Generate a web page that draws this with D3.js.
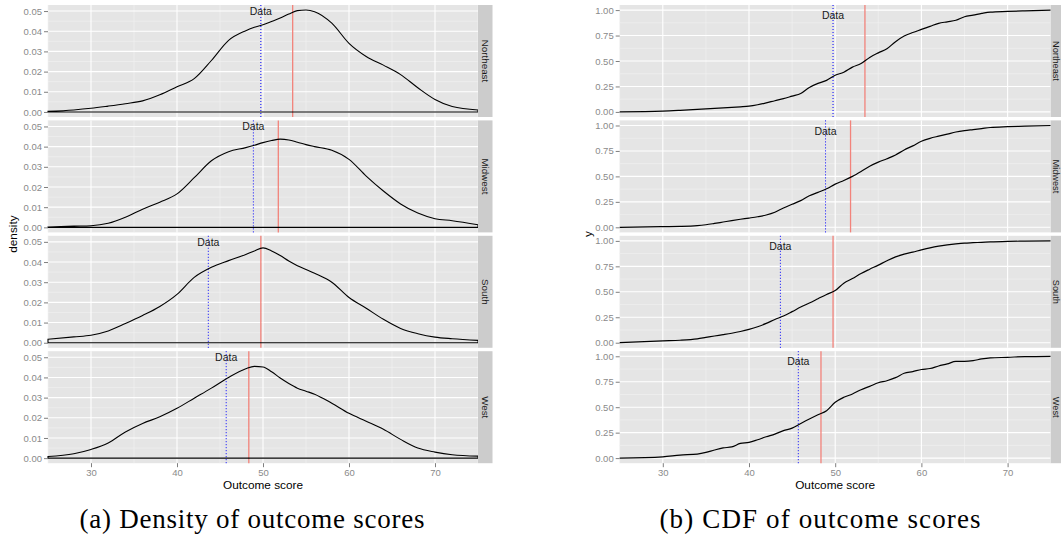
<!DOCTYPE html>
<html>
<head>
<meta charset="utf-8">
<script src="https://cdn.jsdelivr.net/npm/d3@7"></script>
<style>
  html, body { margin: 0; padding: 0; background: #ffffff; }
  svg { display: block; }
</style>
</head>
<body>
<script>
// ---------------- data ----------------
const regions = ["Northeast", "Midwest", "South", "West"];
const xTicks = [30, 40, 50, 60, 70];

// observed ("Data", blue dotted) and model (red) reference values per region
const dataMarks = [49.75, 48.88, 43.64, 45.72];
const modelMarks = [53.45, 51.78, 49.75, 48.35];

// density curves
const densityX = [25, 28, 30, 32, 34, 36, 38, 40, 42, 44, 46, 48, 49, 50, 51, 52, 53, 54, 55, 56, 58, 60, 62, 64, 66, 68, 70, 72, 75];
const densityNortheast = [0.0003, 0.0010, 0.0018, 0.0029, 0.0041, 0.0055, 0.0085, 0.0125, 0.0165, 0.0255, 0.0355, 0.0403, 0.0420, 0.0432, 0.0448, 0.0465, 0.0485, 0.0502, 0.0505, 0.0497, 0.0440, 0.0340, 0.0275, 0.0232, 0.0185, 0.0120, 0.0062, 0.0027, 0.0010];
const densityMidwest = [0.0002, 0.0006, 0.0008, 0.0020, 0.0050, 0.0090, 0.0125, 0.0166, 0.0246, 0.0330, 0.0375, 0.0395, 0.0407, 0.0420, 0.0430, 0.0437, 0.0433, 0.0422, 0.0410, 0.0400, 0.0382, 0.0337, 0.0254, 0.0180, 0.0116, 0.0071, 0.0043, 0.0033, 0.0013];
const densitySouth = [0.0017, 0.0029, 0.0037, 0.0058, 0.0095, 0.0135, 0.0180, 0.0240, 0.0324, 0.0374, 0.0407, 0.0437, 0.0455, 0.0470, 0.0455, 0.0432, 0.0405, 0.0382, 0.0363, 0.0344, 0.0300, 0.0224, 0.0171, 0.0116, 0.0071, 0.0045, 0.0028, 0.0020, 0.0012];
const densityWest = [0.0008, 0.0022, 0.0043, 0.0075, 0.0130, 0.0172, 0.0205, 0.0247, 0.0297, 0.0347, 0.0400, 0.0443, 0.0455, 0.0452, 0.0428, 0.0397, 0.0370, 0.0347, 0.0332, 0.0317, 0.0272, 0.0222, 0.0183, 0.0143, 0.0093, 0.0050, 0.0030, 0.0017, 0.0010];
const densityTicks = [0, 0.01, 0.02, 0.03, 0.04, 0.05];

// cumulative distribution curves
const cdfX = [25, 30, 32, 34, 35, 36, 37, 38, 39, 40, 41, 42, 43, 44, 45, 46, 47, 48, 49, 50, 51, 52, 53, 54, 55, 56, 57, 58, 59, 60, 61, 62, 63, 64, 65, 66, 67, 68, 70, 72, 75];
const cdfNortheast = [0, 0.007, 0.015, 0.025, 0.03, 0.035, 0.04, 0.045, 0.05, 0.056, 0.07, 0.089, 0.11, 0.13, 0.155, 0.18, 0.24, 0.28, 0.31, 0.36, 0.39, 0.44, 0.475, 0.535, 0.58, 0.62, 0.69, 0.745, 0.78, 0.81, 0.84, 0.87, 0.885, 0.9, 0.935, 0.95, 0.967, 0.98, 0.987, 0.993, 1.0];
const cdfMidwest = [0, 0.007, 0.009, 0.016, 0.025, 0.038, 0.052, 0.066, 0.079, 0.091, 0.104, 0.121, 0.148, 0.19, 0.226, 0.262, 0.31, 0.343, 0.378, 0.424, 0.46, 0.5, 0.548, 0.6, 0.64, 0.673, 0.71, 0.76, 0.8, 0.845, 0.874, 0.895, 0.915, 0.936, 0.95, 0.96, 0.97, 0.98, 0.988, 0.993, 1.0];
const cdfSouth = [0, 0.018, 0.024, 0.038, 0.052, 0.066, 0.079, 0.093, 0.11, 0.131, 0.157, 0.19, 0.228, 0.262, 0.305, 0.35, 0.39, 0.432, 0.474, 0.512, 0.585, 0.63, 0.68, 0.722, 0.762, 0.805, 0.843, 0.87, 0.89, 0.912, 0.932, 0.948, 0.96, 0.97, 0.978, 0.982, 0.986, 0.99, 0.995, 0.998, 1.0];
const cdfWest = [0, 0.013, 0.03, 0.04, 0.056, 0.08, 0.1, 0.11, 0.144, 0.154, 0.18, 0.21, 0.236, 0.27, 0.295, 0.34, 0.384, 0.426, 0.466, 0.548, 0.597, 0.63, 0.672, 0.705, 0.74, 0.76, 0.79, 0.833, 0.85, 0.87, 0.88, 0.905, 0.925, 0.95, 0.95, 0.957, 0.974, 0.984, 0.99, 0.997, 1.0];
const cdfTicks = [0, 0.25, 0.5, 0.75, 1.0];

const captions = ["(a) Density of outcome scores", "(b) CDF of outcome scores"];
const xTitle = "Outcome score";
const yTitles = ["density", "y"];
const dataLabel = "Data";

// ---------------- drawing ----------------
const W = 1061, H = 548;
const svg = d3.select("body").append("svg").attr("width", W).attr("height", H)
  .style("font-family", "'Liberation Sans', Arial, sans-serif");

const panelTops = [5, 120.4, 235.8, 351.2];
const panelH = 112;
const stripW = 14.5;

function drawChart(cfg) {
  const g = svg.append("g");
  const x = d3.scaleLinear().domain([25, 75]).range([cfg.x0, cfg.x1]);
  const xMinor = [25, 35, 45, 55, 65, 75];
  const sw = Math.min(stripW, W - cfg.x1);

  regions.forEach((reg, i) => {
    const top = panelTops[i];
    const y = d3.scaleLinear().domain(cfg.yDomain).range([top + panelH, top]);
    const pg = g.append("g");

    // background
    pg.append("rect").attr("x", cfg.x0).attr("y", top)
      .attr("width", cfg.x1 - cfg.x0).attr("height", panelH).attr("fill", "#E5E5E5");

    // minor grid
    const yMinor = [];
    for (let k = 0; k < cfg.yTicks.length - 1; k++) yMinor.push((cfg.yTicks[k] + cfg.yTicks[k + 1]) / 2);
    pg.selectAll(".vminor").data(xMinor).enter().append("line")
      .attr("x1", d => x(d)).attr("x2", d => x(d)).attr("y1", top).attr("y2", top + panelH)
      .attr("stroke", "#F2F2F2").attr("stroke-width", 0.6);
    pg.selectAll(".hminor").data(yMinor).enter().append("line")
      .attr("x1", cfg.x0).attr("x2", cfg.x1).attr("y1", d => y(d)).attr("y2", d => y(d))
      .attr("stroke", "#F2F2F2").attr("stroke-width", 0.6);
    // major grid
    pg.selectAll(".vmajor").data(xTicks).enter().append("line")
      .attr("x1", d => x(d)).attr("x2", d => x(d)).attr("y1", top).attr("y2", top + panelH)
      .attr("stroke", "#FFFFFF").attr("stroke-width", 1.1);
    pg.selectAll(".hmajor").data(cfg.yTicks).enter().append("line")
      .attr("x1", cfg.x0).attr("x2", cfg.x1).attr("y1", d => y(d)).attr("y2", d => y(d))
      .attr("stroke", "#FFFFFF").attr("stroke-width", 1.1);

    // reference lines
    pg.append("line")
      .attr("x1", x(modelMarks[i])).attr("x2", x(modelMarks[i]))
      .attr("y1", top).attr("y2", top + panelH)
      .attr("stroke", "#F2837B").attr("stroke-width", 1.3);
    pg.append("line")
      .attr("x1", x(dataMarks[i])).attr("x2", x(dataMarks[i]))
      .attr("y1", top).attr("y2", top + panelH)
      .attr("stroke", "#0000FF").attr("stroke-width", 1).attr("stroke-dasharray", "1,2");

    // curve
    const vals = cfg.series[i];
    const pts = cfg.xs.map((xv, k) => [xv, vals[k]]);
    if (cfg.kind === "density") {
      const area = d3.area().x(d => x(d[0])).y0(y(0)).y1(d => y(d[1])).curve(d3.curveMonotoneX);
      pg.append("path").attr("d", area(pts)).attr("fill", "none")
        .attr("stroke", "#000000").attr("stroke-width", 1.1);
    } else {
      const line = d3.line().x(d => x(d[0])).y(d => y(d[1])).curve(d3.curveMonotoneX);
      pg.append("path").attr("d", line(pts)).attr("fill", "none")
        .attr("stroke", "#000000").attr("stroke-width", 1.2);
    }

    // "Data" label
    pg.append("text").attr("x", x(dataMarks[i])).attr("y", y(cfg.labelY))
      .attr("text-anchor", "middle").attr("dominant-baseline", "central")
      .attr("font-size", "10.5px").attr("fill", "#1a1a1a").text(dataLabel);

    // strip (clipped by the page edge on the right chart)
    pg.append("rect").attr("x", cfg.x1).attr("y", top).attr("width", stripW).attr("height", panelH)
      .attr("fill", "#CCCCCC");
    pg.append("text")
      .attr("transform", `translate(${cfg.x1 + sw / 2},${top + panelH / 2}) rotate(90)`)
      .attr("text-anchor", "middle").attr("dominant-baseline", "central")
      .attr("font-size", sw < stripW ? "9.2px" : "9.8px").attr("fill", "#1a1a1a").text(reg);

    // y axis
    const ya = pg.append("g").attr("transform", `translate(${cfg.x0},0)`)
      .call(d3.axisLeft(y).tickValues(cfg.yTicks).tickFormat(d3.format(".2f")).tickSize(4).tickPadding(2));
    ya.select(".domain").remove();
    ya.selectAll(".tick line").attr("stroke", "#7F7F7F");
    ya.selectAll(".tick text").attr("fill", "#8A8A8A").attr("font-size", "9.5px")
      .style("font-family", "'Liberation Sans', Arial, sans-serif");

    if (i === regions.length - 1) {
      const xa = pg.append("g").attr("transform", `translate(0,${top + panelH})`)
        .call(d3.axisBottom(x).tickValues(xTicks).tickSize(4).tickPadding(2));
      xa.select(".domain").remove();
      xa.selectAll(".tick line").attr("stroke", "#7F7F7F");
      xa.selectAll(".tick text").attr("fill", "#8A8A8A").attr("font-size", "9.5px")
        .style("font-family", "'Liberation Sans', Arial, sans-serif");
    }
  });

  // axis titles
  const midY = (panelTops[0] + panelTops[3] + panelH) / 2;
  g.append("text").attr("x", (cfg.x0 + cfg.x1) / 2).attr("y", 485)
    .attr("text-anchor", "middle").attr("dominant-baseline", "central")
    .attr("font-size", "11.8px").attr("fill", "#000").text(xTitle);
  g.append("text")
    .attr("transform", `translate(${cfg.yTitleX},${midY}) rotate(-90)`)
    .attr("text-anchor", "middle").attr("dominant-baseline", "central")
    .attr("font-size", "11.8px").attr("fill", "#000").text(cfg.yTitle);

  // caption
  g.append("text").attr("x", cfg.capX).attr("y", 528).attr("text-anchor", "middle")
    .attr("font-family", "'Liberation Serif', 'DejaVu Serif', serif")
    .attr("font-size", "27px").attr("fill", "#000")
    .attr("textLength", cfg.capW).attr("lengthAdjust", "spacing")
    .text(cfg.caption);
}

drawChart({
  kind: "density", x0: 48, x1: 478,
  yDomain: [-0.0025, 0.053], yTicks: densityTicks, labelY: 0.05,
  xs: densityX, series: [densityNortheast, densityMidwest, densitySouth, densityWest],
  yTitle: yTitles[0], yTitleX: 13,
  caption: captions[0], capX: 252, capW: 345
});

drawChart({
  kind: "cdf", x0: 619.7, x1: 1050.7,
  yDomain: [-0.05, 1.05], yTicks: cdfTicks, labelY: 0.95,
  xs: cdfX, series: [cdfNortheast, cdfMidwest, cdfSouth, cdfWest],
  yTitle: yTitles[1], yTitleX: 588,
  caption: captions[1], capX: 820, capW: 321
});
</script>
</body>
</html>
